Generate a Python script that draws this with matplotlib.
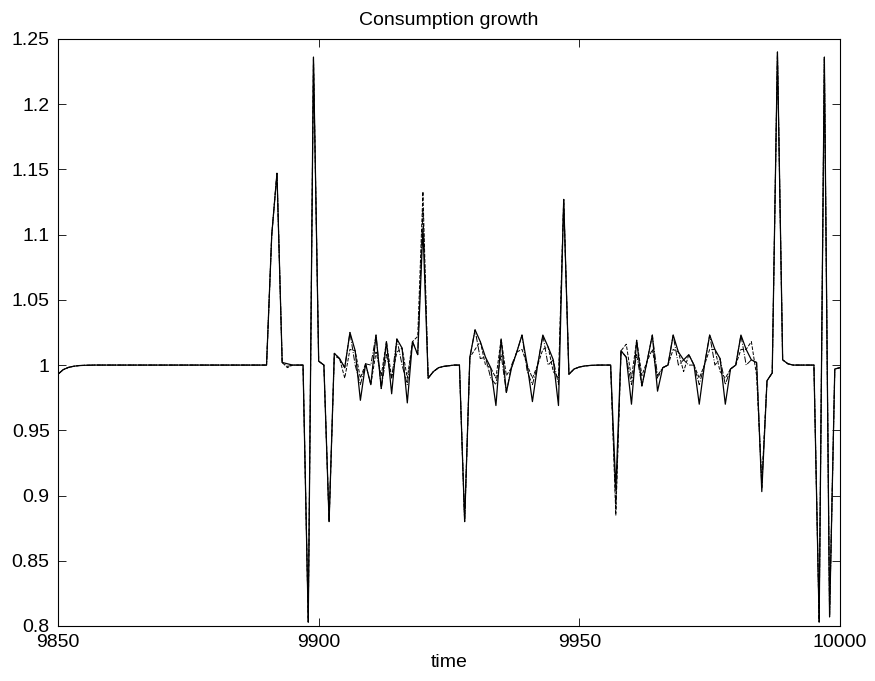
import numpy as np
import matplotlib
matplotlib.use('Agg')
import matplotlib.pyplot as plt

# time axis and tick labels
t_start, t_end = 9850, 10000
x_ticks = [9850, 9900, 9950, 10000]
y_ticks = [0.8, 0.85, 0.9, 0.95, 1.0, 1.05, 1.1, 1.15, 1.2, 1.25]
y_labels = ['0.8', '0.85', '0.9', '0.95', '1', '1.05', '1.1', '1.15', '1.2', '1.25']

# consumption growth, solid line (t = 9850 ... 10000)
growth_solid = [
    0.993, 0.9965, 0.9982, 0.9991, 0.9996, 0.9998, 0.9999, 1.0, 1.0, 1.0,      # 9850
    1.0, 1.0, 1.0, 1.0, 1.0, 1.0, 1.0, 1.0, 1.0, 1.0,                          # 9860
    1.0, 1.0, 1.0, 1.0, 1.0, 1.0, 1.0, 1.0, 1.0, 1.0,                          # 9870
    1.0, 1.0, 1.0, 1.0, 1.0, 1.0, 1.0, 1.0, 1.0, 1.0,                          # 9880
    1.0, 1.100, 1.147, 1.002, 1.001, 1.0, 1.0, 1.0, 0.803, 1.236,              # 9890
    1.003, 1.0, 0.880, 1.009, 1.005, 0.998, 1.025, 1.011, 0.973, 1.001,        # 9900
    0.985, 1.023, 0.982, 1.018, 0.978, 1.020, 1.013, 0.971, 1.018, 1.008,      # 9910
    1.105, 0.990, 0.995, 0.998, 0.999, 0.9995, 1.0, 1.0, 0.880, 1.006,         # 9920
    1.027, 1.018, 1.006, 0.998, 0.969, 1.020, 0.979, 0.998, 1.010, 1.023,      # 9930
    1.000, 0.972, 1.000, 1.023, 1.014, 1.004, 0.969, 1.127, 0.993, 0.997,      # 9940
    0.9985, 0.9993, 0.9997, 0.9999, 1.0, 1.0, 1.0, 0.905, 1.011, 1.006,        # 9950
    0.970, 1.019, 0.984, 1.003, 1.023, 0.980, 0.998, 1.000, 1.023, 1.010,      # 9960
    1.004, 1.008, 1.000, 0.970, 1.000, 1.023, 1.012, 1.005, 0.970, 0.997,      # 9970
    1.000, 1.023, 1.012, 1.004, 1.002, 0.903, 0.988, 0.994, 1.240, 1.004,      # 9980
    1.001, 1.0, 1.0, 1.0, 1.0, 1.0, 0.803, 1.236, 0.807, 0.997,                # 9990
    0.998,                                                                     # 10000
]

# dashed line
growth_dashed = [
    0.993, 0.9965, 0.9982, 0.9991, 0.9996, 0.9998, 0.9999, 1.0, 1.0, 1.0,
    1.0, 1.0, 1.0, 1.0, 1.0, 1.0, 1.0, 1.0, 1.0, 1.0,
    1.0, 1.0, 1.0, 1.0, 1.0, 1.0, 1.0, 1.0, 1.0, 1.0,
    1.0, 1.0, 1.0, 1.0, 1.0, 1.0, 1.0, 1.0, 1.0, 1.0,
    1.0, 1.100, 1.147, 1.002, 0.998, 1.0, 1.0, 1.0, 0.803, 1.236,
    1.003, 1.0, 0.880, 1.009, 1.005, 0.990, 1.012, 1.011, 0.990, 1.001,
    0.985, 1.010, 0.992, 1.018, 0.990, 1.010, 1.013, 0.990, 1.018, 1.022,
    1.133, 0.990, 0.995, 0.998, 0.999, 0.9995, 1.0, 1.0, 0.880, 1.006,
    1.012, 1.018, 1.000, 0.998, 0.990, 1.020, 0.992, 0.998, 1.010, 1.012,
    1.000, 0.990, 1.000, 1.012, 1.014, 0.995, 0.990, 1.127, 0.993, 0.997,
    0.9985, 0.9993, 0.9997, 0.9999, 1.0, 1.0, 1.0, 0.885, 1.011, 1.016,
    0.990, 1.019, 0.992, 1.003, 1.012, 0.990, 0.998, 1.000, 1.012, 1.010,
    0.995, 1.008, 1.000, 0.990, 1.000, 1.012, 1.012, 0.995, 0.990, 0.997,
    1.000, 1.012, 1.012, 1.018, 0.992, 0.910, 0.988, 0.994, 1.240, 1.004,
    1.001, 1.0, 1.0, 1.0, 1.0, 1.0, 0.803, 1.236, 0.807, 0.997,
    0.998,
]

# dash-dot line
growth_dashdot = [
    0.993, 0.9965, 0.9982, 0.9991, 0.9996, 0.9998, 0.9999, 1.0, 1.0, 1.0,
    1.0, 1.0, 1.0, 1.0, 1.0, 1.0, 1.0, 1.0, 1.0, 1.0,
    1.0, 1.0, 1.0, 1.0, 1.0, 1.0, 1.0, 1.0, 1.0, 1.0,
    1.0, 1.0, 1.0, 1.0, 1.0, 1.0, 1.0, 1.0, 1.0, 1.0,
    1.0, 1.100, 1.147, 1.002, 0.999, 1.0, 1.0, 1.0, 0.803, 1.236,
    1.003, 1.0, 0.880, 1.007, 1.005, 0.998, 1.025, 1.000, 0.985, 1.001,
    1.000, 1.023, 0.982, 1.008, 0.990, 1.020, 1.000, 0.985, 1.018, 1.008,
    1.120, 0.990, 0.995, 0.998, 0.999, 0.9995, 1.0, 1.0, 0.880, 1.006,
    1.027, 1.005, 1.006, 0.990, 0.985, 1.008, 0.979, 1.000, 1.010, 1.023,
    0.995, 0.985, 1.000, 1.023, 1.000, 1.004, 0.985, 1.127, 0.993, 0.997,
    0.9985, 0.9993, 0.9997, 0.9999, 1.0, 1.0, 1.0, 0.890, 1.011, 1.006,
    0.985, 1.008, 0.984, 1.003, 1.023, 0.992, 0.998, 1.000, 1.023, 1.000,
    1.004, 1.000, 1.000, 0.985, 1.000, 1.023, 1.000, 1.005, 0.985, 0.997,
    1.000, 1.023, 1.000, 1.004, 1.002, 0.906, 0.988, 0.994, 1.240, 1.004,
    1.001, 1.0, 1.0, 1.0, 1.0, 1.0, 0.803, 1.236, 0.807, 0.997,
    0.998,
]

time = np.arange(t_start, t_end + 1)

plt.rcParams['font.family'] = ['Liberation Sans', 'DejaVu Sans']

fig = plt.figure(figsize=(8.75, 6.81), dpi=100)
ax = fig.add_axes([0.0663, 0.0808, 0.8937, 0.862])

ax.plot(time, growth_dashdot, color='black', linestyle='-.', linewidth=0.7)
ax.plot(time, growth_dashed, color='black', linestyle='--', linewidth=0.7)
ax.plot(time, growth_solid, color='black', linestyle='-', linewidth=0.9)

ax.set_xlim(t_start, t_end)
ax.set_ylim(0.8, 1.25)
ax.set_xticks(x_ticks)
ax.set_xticklabels([str(v) for v in x_ticks])
ax.set_yticks(y_ticks)
ax.set_yticklabels(y_labels)
ax.tick_params(direction='in', length=6, width=0.6, labelsize=14,
               top=True, right=True, pad=6)
for s in ax.spines.values():
    s.set_linewidth(0.8)

ax.set_title('Consumption growth', fontsize=14, pad=10)
ax.set_xlabel('time', fontsize=14, labelpad=2)

fig.savefig('out.png', dpi=100)
